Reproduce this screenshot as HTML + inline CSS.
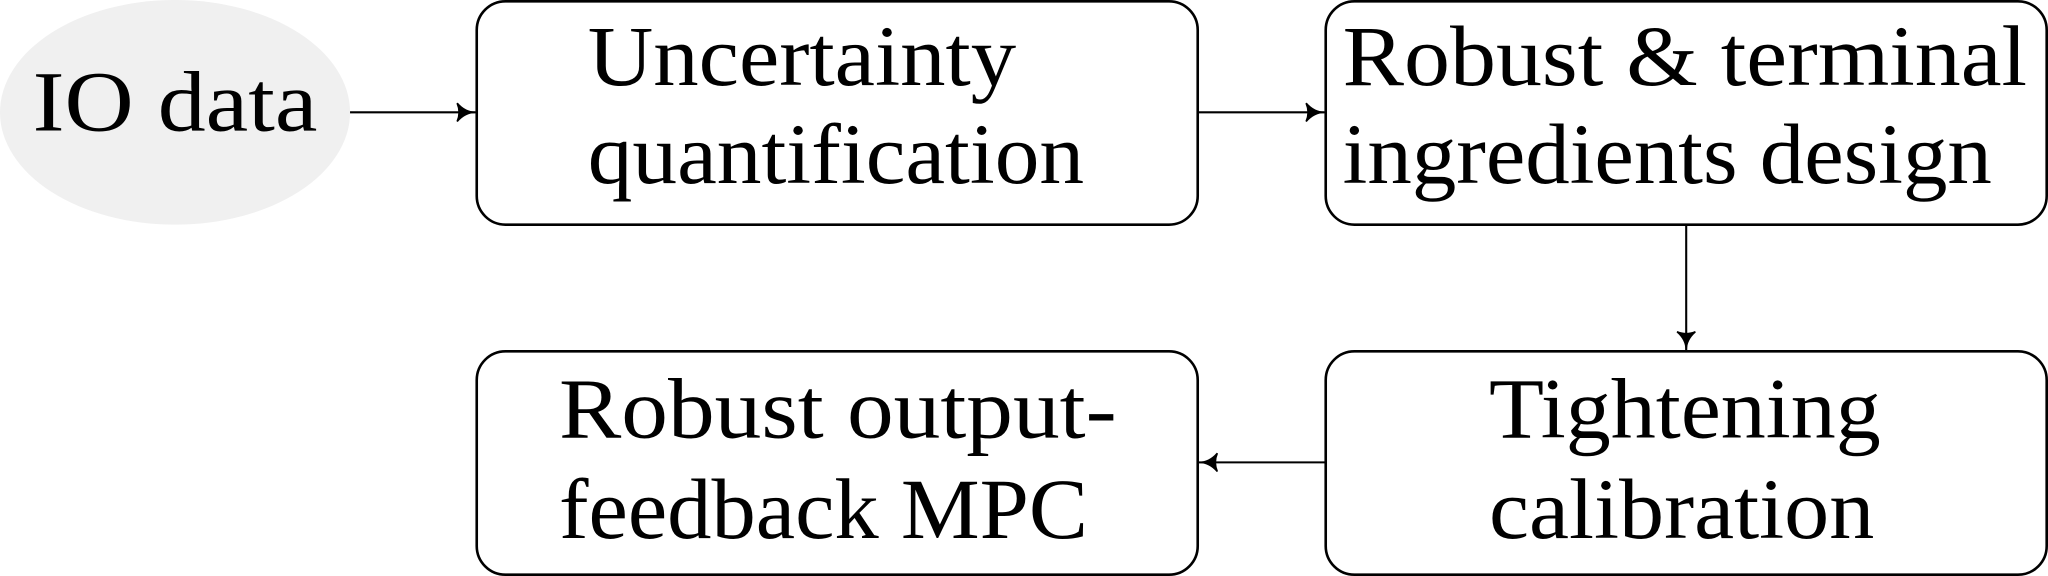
<!DOCTYPE html>
<html><head><meta charset="utf-8"><style>html,body{margin:0;padding:0;background:#fff;}svg{display:block}</style></head>
<body>
<svg width="2048" height="576" viewBox="0 0 1568 441" preserveAspectRatio="none" xmlns="http://www.w3.org/2000/svg">
<defs><marker id="a" markerWidth="16" markerHeight="16" refX="15" refY="8" orient="auto" markerUnits="userSpaceOnUse"><path d="M1,1 Q7,8 15,8 Q7,8 1,15 Q4,8 1,1 Z" fill="#000" stroke="#000" stroke-width="1.2"/></marker></defs>
<ellipse cx="134" cy="86" rx="134" ry="86" fill="#f0f0f0"/>
<g fill="none" stroke="#000" stroke-width="2">
<rect x="365" y="1" width="552" height="171" rx="22"/>
<rect x="1015" y="1" width="552" height="171" rx="22"/>
<rect x="1015" y="269" width="552" height="171" rx="22"/>
<rect x="365" y="269" width="552" height="171" rx="22"/>
<line x1="268" y1="86" x2="364" y2="86" stroke-width="1.6" marker-end="url(#a)"/>
<line x1="918" y1="86" x2="1014" y2="86" stroke-width="1.6" marker-end="url(#a)"/>
<line x1="1291" y1="172" x2="1291" y2="268" stroke-width="1.6" marker-end="url(#a)"/>
<line x1="1015" y1="354" x2="918" y2="354" stroke-width="1.6" marker-end="url(#a)"/>
</g>
<g font-family="'Liberation Serif',serif" font-size="66" fill="#000">
<text x="25" y="100" textLength="218" lengthAdjust="spacingAndGlyphs">IO data</text>
<text x="450" y="65" textLength="328" lengthAdjust="spacingAndGlyphs">Uncertainty</text>
<text x="450" y="140" textLength="380" lengthAdjust="spacingAndGlyphs">quantification</text>
<text x="1028" y="65" textLength="524" lengthAdjust="spacingAndGlyphs">Robust &amp; terminal</text>
<text x="1028" y="140" textLength="497" lengthAdjust="spacingAndGlyphs">ingredients design</text>
<text x="428" y="335" textLength="427" lengthAdjust="spacingAndGlyphs">Robust output-</text>
<text x="428" y="412" textLength="405" lengthAdjust="spacingAndGlyphs">feedback MPC</text>
<text x="1140" y="335" textLength="300" lengthAdjust="spacingAndGlyphs">Tightening</text>
<text x="1140" y="412" textLength="295" lengthAdjust="spacingAndGlyphs">calibration</text>
</g>
</svg>
</body></html>
